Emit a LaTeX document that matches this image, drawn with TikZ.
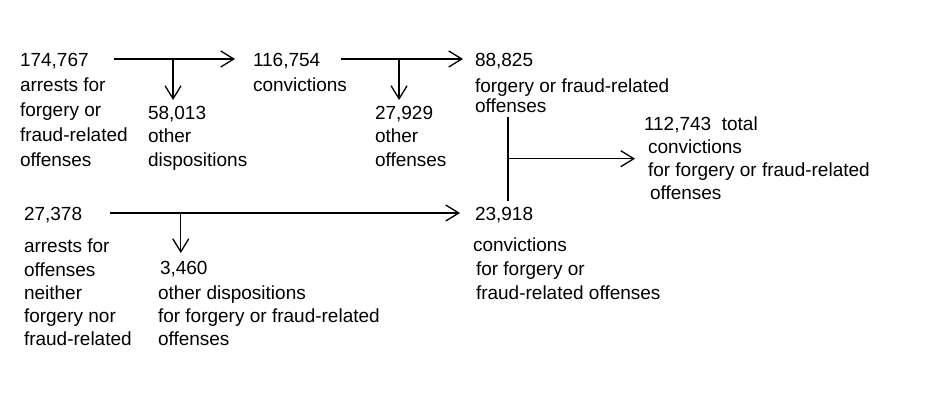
\documentclass[tikz,border=0pt]{standalone}
\usepackage{fontspec}
\setmainfont{Liberation Sans}
\usetikzlibrary{arrows.meta}
\begin{document}
\begin{tikzpicture}[x=1pt,y=-1pt,
  num/.style={inner sep=0pt, outer sep=0pt, anchor=base west, font=\fontsize{19}{24}\selectfont, text height=16pt, text depth=0pt},
  txt/.style={inner sep=0pt, outer sep=0pt, anchor=base west, align=left, font=\fontsize{19}{#1}\selectfont},
  txt/.default=24,
  arr/.style={-{Straight Barb[length=13pt,width=16pt]}, line width=1.3pt},
  ln/.style={line width=1.3pt}]
\useasboundingbox (0,0) rectangle (951,395);

% top row (text blocks anchored at the baseline of their last line)
\node[num] (n1) at (20,67) {174,767};
\node[txt=25] (d1) at (20,167) {arrests for\\forgery or\\fraud-related\\offenses};
\node[num] (n2) at (253,67) {116,754};
\node[txt] (d2) at (253,92) {convictions};
\node[num] (n3) at (475,67) {88,825};
\node[txt=20] (d3) at (475,113) {forgery or fraud-related\\offenses};
\node[num] (n4) at (148,120) {58,013};
\node[txt=24] (d4) at (148,167) {other\\dispositions};
\node[num] (n5) at (375,120) {27,929};
\node[txt=24] (d5) at (375,167) {other\\offenses};
\node[txt=23] (tot) at (644,200) {112,743\ \ total\\\hspace*{4pt}convictions\\\hspace*{4pt}for forgery or fraud-related\\\hspace*{6pt}offenses};

% bottom row
\node[num] (n6) at (24,221) {27,378};
\node[txt=23.3] (d6) at (24,346) {arrests for\\offenses\\neither\\forgery nor\\fraud-related};
\node[num] (n7) at (160,275) {3,460};
\node[txt=23] (d7) at (158,346) {other dispositions\\for forgery or fraud-related\\offenses};
\node[num] (n8) at (475,221) {23,918};
\node[txt=24] (d8) at (473,300) {convictions\\\hspace*{3pt}for forgery or\\\hspace*{3pt}fraud-related offenses};

% connectors
\draw[arr, shorten <=25pt, shorten >=18pt] (n1.east) -- (n2.west);
\draw[arr, shorten >=4pt] ([xshift=-4pt]n4.north |- n1.east) -- ([xshift=-4pt]n4.north);
\draw[arr, shorten <=21pt, shorten >=12pt] (n2.east) -- (n3.west);
\draw[arr, shorten >=4pt] ([xshift=-5pt]n5.north |- n2.east) -- ([xshift=-5pt]n5.north);
\draw[arr, shorten <=28pt, shorten >=15pt] (n6.east) -- (n8.west);
\draw[arr, shorten >=6pt] ([xshift=-3pt]n7.north |- n6.east) -- ([xshift=-3pt]n7.north);

\coordinate (vt) at (508,117);
\coordinate (vb) at (508,201);
\draw[ln] (vt) -- (vb);
\draw[arr, shorten >=9pt] (vt |- tot.west) -- (tot.west);
\end{tikzpicture}
\end{document}
